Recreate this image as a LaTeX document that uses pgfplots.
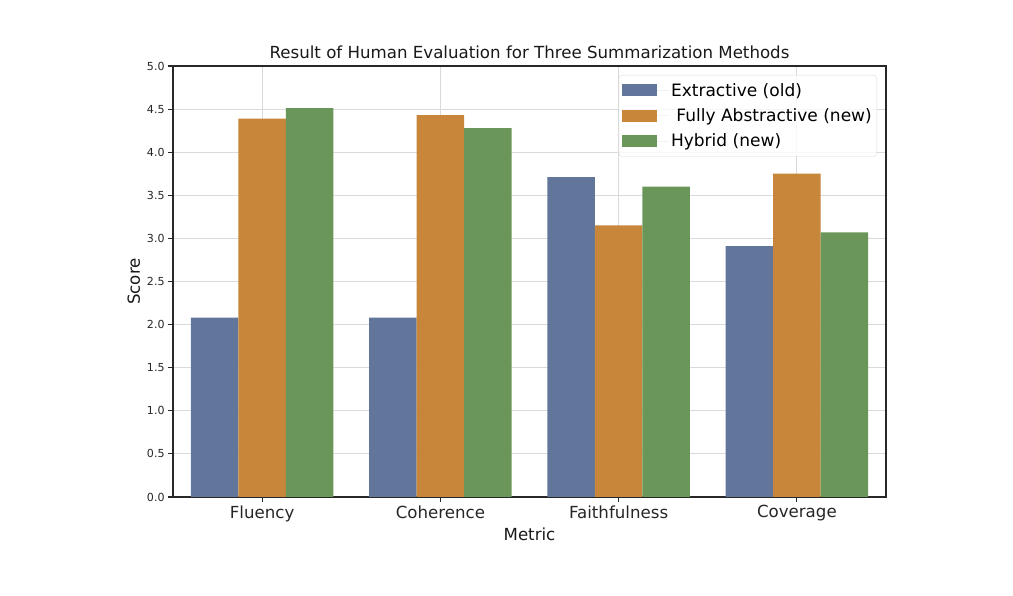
\documentclass[border=0pt]{standalone}
\usepackage{fontspec}
\setmainfont{DejaVu Sans}
\usepackage{pgfplots}
\pgfplotsset{compat=1.18}
\definecolor{cblue}{RGB}{98,117,155}
\definecolor{corange}{RGB}{200,134,58}
\definecolor{cgreen}{RGB}{106,150,90}
\definecolor{gridc}{RGB}{218,218,218}
\definecolor{spine}{RGB}{40,40,40}
\begin{document}
\begin{tikzpicture}
\begin{axis}[name=ax, ybar, bar width=0.2667,
  scale only axis, width=713bp, height=431bp,
  xmin=-0.5, xmax=3.5, ymin=0, ymax=5,
  xtick={0,1,2,3}, xticklabels={Fluency,Coherence,Faithfulness,Coverage},
  ytick={0,0.5,1,1.5,2,2.5,3,3.5,4,4.5,5},
  yticklabel style={/pgf/number format/fixed, /pgf/number format/fixed zerofill, /pgf/number format/precision=1,
    font=\fontsize{11.1}{13}\selectfont, text=black!85},
  /pgf/number format/assume math mode=true,
  xticklabel style={font=\fontsize{16.7}{20}\selectfont, text=black!85},
  tick align=outside, tick pos=left, major tick length=4.9bp,
  tick style={line width=1.1bp, draw=spine},
  grid=major, grid style={draw=gridc, line width=1.1bp},
  axis line style={line width=1.1bp, draw=spine},
  title={Result of Human Evaluation for Three Summarization Methods},
  title style={font=\fontsize{16.7}{20}\selectfont, text=black!90, yshift=-2bp},
  xlabel={Metric}, ylabel={Score},
  xlabel style={font=\fontsize{16.7}{20}\selectfont, text=black!90},
  ylabel style={font=\fontsize{16.7}{20}\selectfont, text=black!90},
  legend style={at={(1,1)}, anchor=north east, xshift=-9bp, yshift=-9bp,
    draw=gridc, rounded corners=3bp, fill=white, fill opacity=0.8, text opacity=1,
    font=\fontsize{17.1}{20}\selectfont, row sep=7bp, inner xsep=3bp, inner ysep=6bp,
    cells={anchor=west}},
  legend image code/.code={\fill[#1, sharp corners, fill opacity=1] (0bp,-6bp) rectangle (35bp,6bp); \path (0bp,0bp) -- (47bp,0bp);},
]
\addplot[fill=cblue, draw=none, bar shift=-0.2667] coordinates {(0,2.08) (1,2.08) (2,3.71) (3,2.91)};
\addlegendentry{Extractive (old)}
\addplot[fill=corange, draw=none, bar shift=0] coordinates {(0,4.39) (1,4.43) (2,3.15) (3,3.75)};
\addlegendentry{\hspace{0.32em}Fully Abstractive (new)}
\addplot[fill=cgreen, draw=none, bar shift=0.2667] coordinates {(0,4.51) (1,4.28) (2,3.60) (3,3.07)};
\addlegendentry{Hybrid (new)}
\end{axis}
\path[use as bounding box] ([xshift=-173bp,yshift=-99bp]ax.south west) rectangle ([xshift=127bp,yshift=66bp]ax.north east);
\end{tikzpicture}
\end{document}
